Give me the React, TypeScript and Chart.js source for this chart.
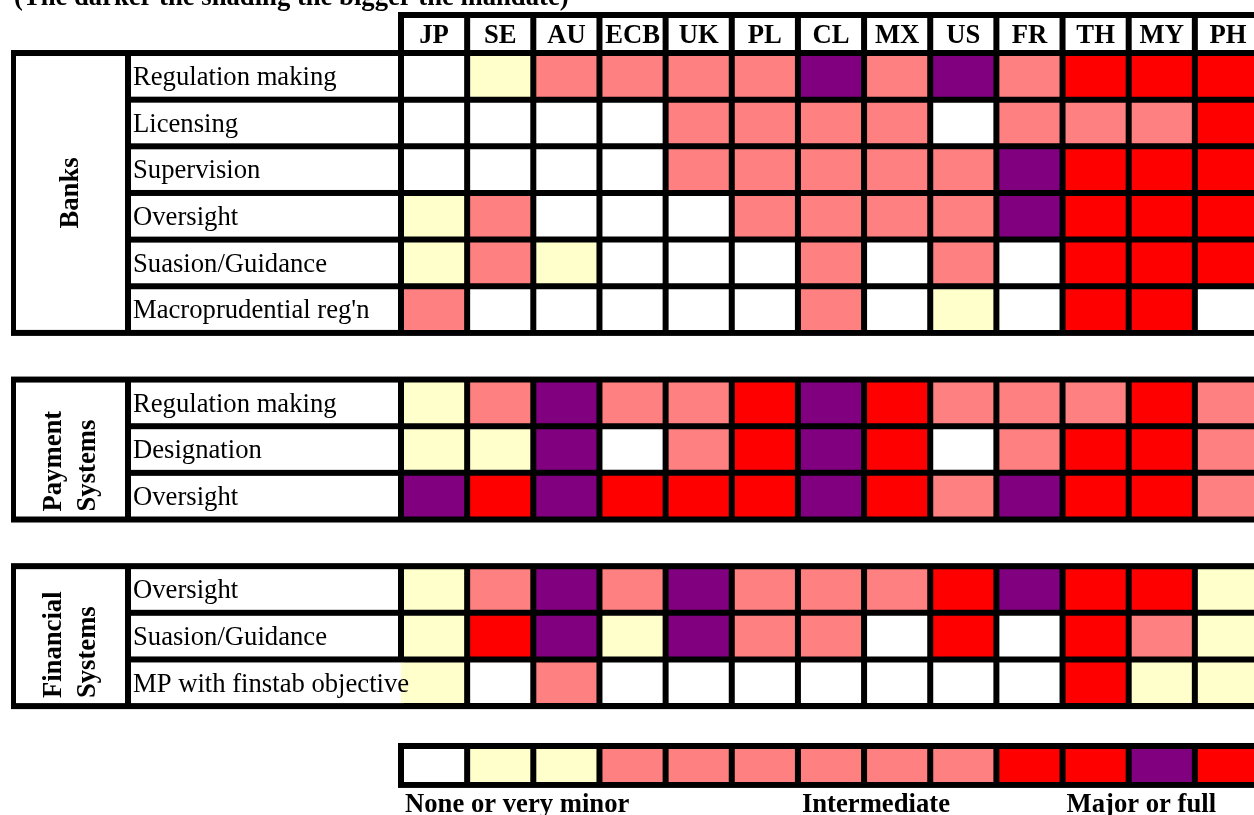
import React, { useEffect, useRef } from "react";
import { Chart, registerables } from "chart.js";

Chart.register(...registerables);

// ---------------- data ----------------
const TITLE = "(The darker the shading the bigger the mandate)";
const COUNTRIES = ["JP", "SE", "AU", "ECB", "UK", "PL", "CL", "MX", "US", "FR", "TH", "MY", "PH"];

// mandate level: 0 none, 1 very minor, 2 intermediate, 3 major, 4 full
const LEVEL_COLORS = ["#FFFFFF", "#FFFFCC", "#FF8080", "#FF0000", "#800080"];

const BANK_ROWS = ["Regulation making", "Licensing", "Supervision", "Oversight", "Suasion/Guidance", "Macroprudential reg'n"];
const BANK_REGULATION = [0, 1, 2, 2, 2, 2, 4, 2, 4, 2, 3, 3, 3];
const BANK_LICENSING = [0, 0, 0, 0, 2, 2, 2, 2, 0, 2, 2, 2, 3];
const BANK_SUPERVISION = [0, 0, 0, 0, 2, 2, 2, 2, 2, 4, 3, 3, 3];
const BANK_OVERSIGHT = [1, 2, 0, 0, 0, 2, 2, 2, 2, 4, 3, 3, 3];
const BANK_SUASION = [1, 2, 1, 0, 0, 0, 2, 0, 2, 0, 3, 3, 3];
const BANK_MACROPRU = [2, 0, 0, 0, 0, 0, 2, 0, 1, 0, 3, 3, 0];

const PAY_ROWS = ["Regulation making", "Designation", "Oversight"];
const PAY_REGULATION = [1, 2, 4, 2, 2, 3, 4, 3, 2, 2, 2, 3, 2];
const PAY_DESIGNATION = [1, 1, 4, 0, 2, 3, 4, 3, 0, 2, 3, 3, 2];
const PAY_OVERSIGHT = [4, 3, 4, 3, 3, 3, 4, 3, 2, 4, 3, 3, 2];

const FIN_ROWS = ["Oversight", "Suasion/Guidance", "MP with finstab objective"];
const FIN_OVERSIGHT = [1, 2, 4, 2, 4, 2, 2, 2, 3, 4, 3, 3, 1];
const FIN_SUASION = [1, 3, 4, 1, 4, 2, 2, 0, 3, 0, 3, 2, 1];
const FIN_MP = [1, 0, 2, 0, 0, 0, 0, 0, 0, 0, 3, 1, 1];

const LEGEND_SCALE = [0, 1, 1, 2, 2, 2, 2, 2, 2, 3, 3, 4, 3];
const LEGEND_LABELS = ["None or very minor", "Intermediate", "Major or full"];
const LEGEND_LABEL_COLUMNS = [0, 6, 10];

const GROUPS = [
  { label: ["Banks"], rows: BANK_ROWS, values: [BANK_REGULATION, BANK_LICENSING, BANK_SUPERVISION, BANK_OVERSIGHT, BANK_SUASION, BANK_MACROPRU] },
  { label: ["Payment", "Systems"], rows: PAY_ROWS, values: [PAY_REGULATION, PAY_DESIGNATION, PAY_OVERSIGHT] },
  { label: ["Financial", "Systems"], rows: FIN_ROWS, values: [FIN_OVERSIGHT, FIN_SUASION, FIN_MP] },
];

// ---------------- layout ----------------
const FONT_FAMILY = '"Liberation Serif", "Times New Roman", serif';
const FS = 26.67;
const CANVAS_W = 1265;
const CANVAS_H = 815;
const B = 3; // half of a grid line
const HEADER_FROM = -0.815; // slot units
const Y_MAX = 16;
const LEGEND_FROM = 14.855;
const LEGEND_TO = 15.69;
const FRAME_LEFT = 11;
const GROUP_COL_LEFT = 16;
const GROUP_COL_RIGHT = 125;
const ROW_COL_LEFT = 131;
const TEXT_PAD = 2;

// compute slots
type RowLayout = { name: string; values: number[]; slot: number };
type GroupLayout = { label: string[]; first: number; last: number; rows: RowLayout[] };
const LAYOUT: GroupLayout[] = (() => {
  let slot = 0;
  const out: GroupLayout[] = [];
  GROUPS.forEach((g) => {
    const first = slot;
    const rows: RowLayout[] = g.rows.map((name, i) => ({ name, values: g.values[i], slot: slot++ }));
    out.push({ label: g.label, first, last: slot - 1, rows });
    slot++; // gap
  });
  return out;
})();

const tablePlugin = {
  id: "mandateTable",
  beforeDatasetsDraw(chart: any) {
    const ctx: CanvasRenderingContext2D = chart.ctx;
    const { left, right } = chart.chartArea;
    const y = chart.scales.y;
    ctx.save();
    // header frame
    ctx.fillStyle = "#000";
    const hTop = y.getPixelForValue(HEADER_FROM) - B;
    const hBot = y.getPixelForValue(0) + B;
    ctx.fillRect(left - B, hTop, right + B - (left - B), hBot - hTop);
    LAYOUT.forEach((g) => {
      const top = y.getPixelForValue(g.first);
      const bot = y.getPixelForValue(g.last + 1);
      ctx.fillStyle = "#000";
      ctx.fillRect(FRAME_LEFT, top - B, right + B - FRAME_LEFT, bot - top + 2 * B);
      ctx.fillStyle = "#FFF";
      ctx.fillRect(GROUP_COL_LEFT, top + B, GROUP_COL_RIGHT - GROUP_COL_LEFT, bot - top - 2 * B);
      g.rows.forEach((r) => {
        const t = y.getPixelForValue(r.slot);
        const b = y.getPixelForValue(r.slot + 1);
        ctx.fillRect(ROW_COL_LEFT, t + B, left - B - ROW_COL_LEFT, b - t - 2 * B);
      });
    });
    // legend frame
    ctx.fillStyle = "#000";
    const lTop = y.getPixelForValue(LEGEND_FROM) - B;
    const lBot = y.getPixelForValue(LEGEND_TO) + B;
    ctx.fillRect(left - B, lTop, right + B - (left - B), lBot - lTop);
    ctx.restore();
  },
  afterDatasetsDraw(chart: any) {
    const ctx: CanvasRenderingContext2D = chart.ctx;
    const { left } = chart.chartArea;
    const x = chart.scales.x;
    const y = chart.scales.y;
    const pitch = x.getPixelForValue(1) - x.getPixelForValue(0);
    ctx.save();
    ctx.fillStyle = "#000";
    ctx.textBaseline = "alphabetic";
    const capShift = FS * 0.331;

    // title (cut at the top)
    ctx.font = `bold ${FS}px ${FONT_FAMILY}`;
    ctx.textAlign = "left";
    ctx.fillText(TITLE, 14, 4.5);

    // header labels
    const hMid = (y.getPixelForValue(HEADER_FROM) + y.getPixelForValue(0)) / 2;
    ctx.textAlign = "center";
    COUNTRIES.forEach((c, i) => {
      ctx.fillText(c, x.getPixelForValue(i), hMid + capShift);
    });

    // row labels
    ctx.font = `${FS}px ${FONT_FAMILY}`;
    ctx.textAlign = "left";
    LAYOUT.forEach((g) => {
      g.rows.forEach((r) => {
        const t = y.getPixelForValue(r.slot);
        const b = y.getPixelForValue(r.slot + 1);
        const w = ctx.measureText(r.name).width;
        if (ROW_COL_LEFT + TEXT_PAD + w > left - B) {
          // text spills over the border into the first column
          ctx.fillStyle = "#FFF";
          ctx.fillRect(left - B, t + B, B, b - t - 2 * B);
          ctx.fillStyle = LEVEL_COLORS[r.values[0]];
          ctx.fillRect(left, t + B, B, b - t - 2 * B);
          ctx.fillStyle = "#000";
        }
        ctx.fillText(r.name, ROW_COL_LEFT + TEXT_PAD, (t + b) / 2 + capShift);
      });
    });

    // group labels (rotated)
    ctx.font = `bold ${FS}px ${FONT_FAMILY}`;
    LAYOUT.forEach((g) => {
      const top = y.getPixelForValue(g.first) + B;
      const bot = y.getPixelForValue(g.last + 1) - B;
      const cx = (GROUP_COL_LEFT + GROUP_COL_RIGHT) / 2 - 1;
      const n = g.label.length;
      const lh = 34;
      ctx.save();
      if (n === 1) {
        ctx.translate(cx, (top + bot) / 2);
        ctx.rotate(-Math.PI / 2);
        ctx.textAlign = "center";
        ctx.fillText(g.label[0], 0, capShift);
      } else {
        ctx.translate(cx, bot - 5);
        ctx.rotate(-Math.PI / 2);
        ctx.textAlign = "left";
        g.label.forEach((line, i) => {
          ctx.fillText(line, 0, capShift + (i - (n - 1) / 2) * lh);
        });
      }
      ctx.restore();
    });

    // legend labels
    const lBot = y.getPixelForValue(LEGEND_TO) + B;
    ctx.textAlign = "left";
    LEGEND_LABELS.forEach((lab, i) => {
      const col = LEGEND_LABEL_COLUMNS[i];
      ctx.fillText(lab, x.getPixelForValue(col) - pitch / 2 + B + 1, lBot + 24);
    });
    ctx.restore();
  },
};

export default function App() {
  const ref = useRef<HTMLCanvasElement | null>(null);
  useEffect(() => {
    if (!ref.current) return;
    const common = {
      borderColor: "#000000",
      borderWidth: B,
      borderSkipped: false as const,
      barPercentage: 1,
      categoryPercentage: 1,
      grouped: false,
      inflateAmount: 0,
      clip: false as any,
    };
    const datasets: any[] = [];
    datasets.push({
      ...common,
      label: "header",
      data: COUNTRIES.map(() => [HEADER_FROM, 0]),
      backgroundColor: "#FFFFFF",
    });
    LAYOUT.forEach((g) => {
      g.rows.forEach((r) => {
        datasets.push({
          ...common,
          label: r.name,
          data: r.values.map(() => [r.slot, r.slot + 1]),
          backgroundColor: r.values.map((v) => LEVEL_COLORS[v]),
        });
      });
    });
    datasets.push({
      ...common,
      label: "legend",
      data: LEGEND_SCALE.map(() => [LEGEND_FROM, LEGEND_TO]),
      backgroundColor: LEGEND_SCALE.map((v) => LEVEL_COLORS[v]),
    });

    const chart = new Chart(ref.current, {
      type: "bar",
      data: { labels: COUNTRIES, datasets },
      options: {
        animation: false,
        responsive: false,
        devicePixelRatio: 1,
        events: [],
        layout: { padding: { left: 401, right: 4, top: 15, bottom: 15.6 } },
        plugins: { legend: { display: false }, tooltip: { enabled: false } },
        scales: {
          x: { type: "category", display: false, offset: true },
          y: { type: "linear", display: false, reverse: true, min: HEADER_FROM, max: Y_MAX },
        },
      },
      plugins: [tablePlugin],
    });
    return () => chart.destroy();
  }, []);

  return (
    <div style={{ position: "fixed", left: 0, top: 0, width: 1254, height: 815, overflow: "hidden", background: "#FFFFFF" }}>
      <canvas ref={ref} width={CANVAS_W} height={CANVAS_H} style={{ display: "block" }} />
    </div>
  );
}
